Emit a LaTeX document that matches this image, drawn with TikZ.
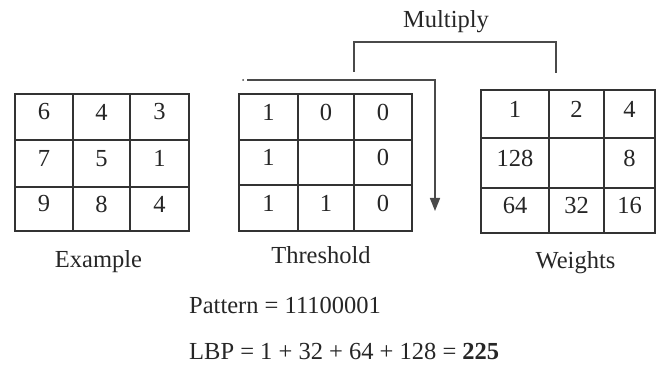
\documentclass[tikz,border=0pt]{standalone}
\usepackage{fontspec}
\setmainfont{Liberation Serif}
\usetikzlibrary{arrows.meta}
\definecolor{ink}{HTML}{262626}
\definecolor{rule}{HTML}{333333}
\definecolor{wire}{HTML}{4A4A4A}
\begin{document}
\begin{tikzpicture}[x=1pt,y=-1pt,
  frame/.style={draw=rule,line width=1.9pt,inner sep=0pt,outer sep=0pt},
  gridline/.style={draw=rule,line width=1.9pt},
  num/.style={text=ink,font=\fontsize{24.5}{28}\selectfont,inner sep=0pt},
  lbl/.style={text=ink,font=\fontsize{24.5}{28}\selectfont,inner sep=0pt,anchor=base},
  link/.style={draw=wire,line width=1.6pt}]
\useasboundingbox (0,0) rectangle (656,366);

% ---- Example grid: columns 15/73/130/189, rows 94/140/187/231
\node[frame,minimum width=174pt,minimum height=137pt] (ex) at (102,162.5) {};
\draw[gridline] (73,94) -- (73,231) (130,94) -- (130,231)
                (15,140) -- (189,140) (15,187) -- (189,187);
\node[num] (ex11) at (44,112)    {6};
\node[num] (ex12) at (101.5,112) {4};
\node[num] (ex13) at (159.5,112) {3};
\node[num] (ex21) at (44,158.5)  {7};
\node[num] (ex22) at (101.5,158.5) {5};
\node[num] (ex23) at (159.5,158.5) {1};
\node[num] (ex31) at (44,204)    {9};
\node[num] (ex32) at (101.5,204) {8};
\node[num] (ex33) at (159.5,204) {4};
\node[lbl] (exlabel) at (98.5,267) {Example};

% ---- Threshold grid: columns 239/298/354/412, rows 94/140/185/231
\node[frame,minimum width=173pt,minimum height=137pt] (th) at (325.5,162.5) {};
\draw[gridline] (298,94) -- (298,231) (354,94) -- (354,231)
                (239,140) -- (412,140) (239,185) -- (412,185);
\node[num] (th11) at (268.5,112) {1};
\node[num] (th12) at (326,112)   {0};
\node[num] (th13) at (383,112)   {0};
\node[num] (th21) at (268.5,157.5) {1};
\node[num] (th23) at (383,157.5) {0};
\node[num] (th31) at (268.5,203) {1};
\node[num] (th32) at (326,203)   {1};
\node[num] (th33) at (383,203)   {0};
\node[lbl] (thlabel) at (321,263) {Threshold};

% ---- Weights grid: columns 481/549/604/655, rows 90/138/188/233
\node[frame,minimum width=174pt,minimum height=143pt] (wt) at (568,161.5) {};
\draw[gridline] (549,90) -- (549,233) (604,90) -- (604,233)
                (481,138) -- (655,138) (481,188) -- (655,188);
\node[num] (wt11) at (515,109)   {1};
\node[num] (wt12) at (576.5,109) {2};
\node[num] (wt13) at (629.5,109) {4};
\node[num] (wt21) at (515,158)   {128};
\node[num] (wt23) at (629.5,158) {8};
\node[num] (wt31) at (515,205.5) {64};
\node[num] (wt32) at (576.5,205.5) {32};
\node[num] (wt33) at (629.5,205.5) {16};
\node[lbl] (wtlabel) at (575.5,269) {Weights};

% ---- Scan arrow over the threshold grid
\coordinate (scanstart) at (247,80);
\coordinate (scanturn) at (435,80);
\coordinate (scanend) at (435,211);
\fill[wire] (243,80) circle (1pt);
\draw[link,-{Triangle[length=13pt,width=10pt]}] (scanstart) -- (scanturn) -- (scanend);

% ---- Multiply bracket joining threshold and weights
\coordinate (mulA) at (354,72);
\coordinate (mulB) at (354,42);
\coordinate (mulC) at (556,42);
\coordinate (mulD) at (556,73);
\draw[link] (mulA) -- (mulB) -- (mulC) -- (mulD);
\node[lbl] (multiply) at (446,28) {Multiply};

% ---- Result lines
\node[lbl,anchor=base west] (pattern) at (189,313) {Pattern = 11100001};
\node[lbl,anchor=base west] (lbp) at (189,359) {LBP = 1 + 32 + 64 + 128 = \textbf{225}};
\end{tikzpicture}
\end{document}
